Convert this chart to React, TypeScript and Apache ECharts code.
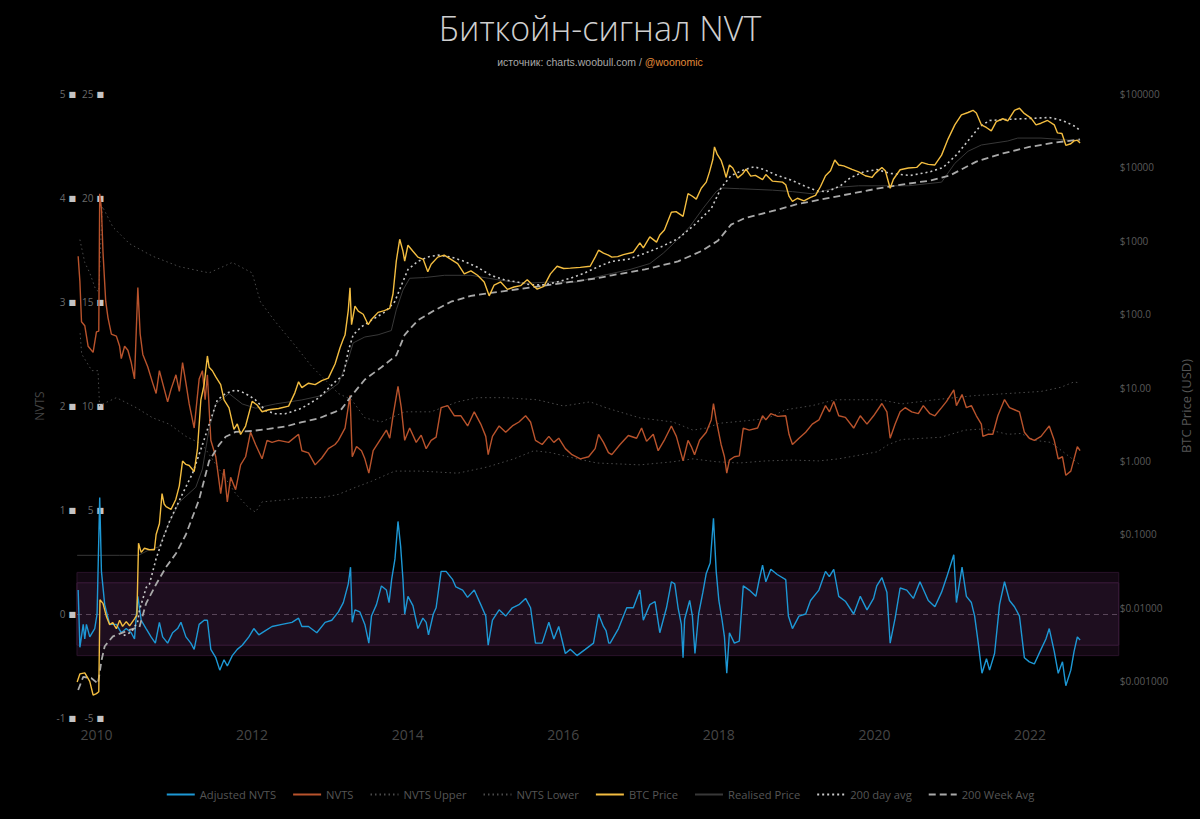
import React, { useEffect, useRef } from "react";
import * as echarts from "echarts";

// x values are decimal years
const xTickYears = [2010, 2012, 2014, 2016, 2018, 2020, 2022];
const priceTicks = [0.001, 0.01, 0.1, 1, 10, 100, 1000, 10000, 100000];

const adjustedNvts: [number, number][] = [
  [2009.765,0.23],[2009.787,-0.32],[2009.83,-0.1],[2009.85,-0.24],[2009.871,-0.1],[2009.914,-0.22],[2009.978,-0.14],[2010.008,0],[2010.042,1.12],[2010.064,0.41],[2010.106,0.09],[2010.17,-0.1],[2010.256,-0.1],[2010.319,-0.18],[2010.383,-0.14],[2010.447,-0.18],[2010.489,-0.24],[2010.532,0.17],[2010.575,-0.06],[2010.638,-0.14],[2010.702,-0.22],[2010.757,-0.28],[2010.809,-0.08],[2010.851,-0.22],[2010.915,-0.28],[2010.979,-0.18],[2011.043,-0.14],[2011.086,-0.08],[2011.15,-0.22],[2011.213,-0.28],[2011.256,-0.34],[2011.32,-0.1],[2011.384,-0.06],[2011.426,-0.06],[2011.47,-0.34],[2011.534,-0.42],[2011.585,-0.54],[2011.64,-0.44],[2011.682,-0.5],[2011.746,-0.4],[2011.81,-0.34],[2011.874,-0.3],[2011.959,-0.22],[2012.023,-0.14],[2012.087,-0.2],[2012.172,-0.16],[2012.257,-0.12],[2012.385,-0.1],[2012.513,-0.08],[2012.598,-0.04],[2012.64,-0.12],[2012.726,-0.12],[2012.832,-0.18],[2012.939,-0.08],[2013.025,-0.06],[2013.11,0.02],[2013.173,0.11],[2013.237,0.29],[2013.266,0.45],[2013.288,-0.08],[2013.323,0.04],[2013.386,0.02],[2013.45,-0.1],[2013.501,-0.28],[2013.535,-0.02],[2013.599,0.09],[2013.663,0.27],[2013.727,0.23],[2013.761,0.11],[2013.794,0.33],[2013.837,0.53],[2013.876,0.89],[2013.91,0.65],[2013.94,0.33],[2013.962,0],[2014.004,0.17],[2014.068,0.08],[2014.132,-0.14],[2014.196,-0.04],[2014.238,-0.08],[2014.268,-0.2],[2014.33,0],[2014.366,0.06],[2014.43,0.41],[2014.494,0.41],[2014.579,0.33],[2014.62,0.26],[2014.707,0.23],[2014.77,0.16],[2014.856,0.23],[2014.94,0.09],[2015.004,-0.02],[2015.035,-0.3],[2015.09,-0.06],[2015.176,0.04],[2015.26,-0.02],[2015.346,0.06],[2015.431,0.09],[2015.516,0.15],[2015.58,0.06],[2015.643,-0.28],[2015.729,-0.28],[2015.815,-0.08],[2015.879,-0.24],[2015.942,-0.12],[2016.027,-0.38],[2016.09,-0.34],[2016.176,-0.4],[2016.283,-0.34],[2016.389,-0.28],[2016.454,0],[2016.517,-0.12],[2016.55,-0.16],[2016.585,-0.28],[2016.603,-0.28],[2016.71,-0.14],[2016.816,0.06],[2016.901,0.06],[2016.985,0.23],[2017.029,-0.06],[2017.113,0.09],[2017.18,0.12],[2017.241,-0.18],[2017.327,0.06],[2017.39,0.31],[2017.433,0.29],[2017.476,0.06],[2017.518,-0.1],[2017.54,-0.42],[2017.56,-0.05],[2017.625,0.13],[2017.66,-0.02],[2017.693,-0.38],[2017.74,0],[2017.795,0.21],[2017.838,0.39],[2017.889,0.49],[2017.931,0.92],[2017.966,0.41],[2018.0,0.13],[2018.042,-0.06],[2018.072,-0.22],[2018.102,-0.57],[2018.136,-0.18],[2018.2,-0.28],[2018.263,-0.26],[2018.314,0.27],[2018.391,0.23],[2018.476,0.17],[2018.519,0.33],[2018.562,0.47],[2018.604,0.31],[2018.668,0.43],[2018.75,0.38],[2018.86,0.33],[2018.894,-0.02],[2018.946,-0.14],[2019.03,-0.02],[2019.116,0],[2019.179,0.13],[2019.286,0.23],[2019.371,0.41],[2019.42,0.36],[2019.477,0.43],[2019.541,0.17],[2019.63,0.12],[2019.733,0],[2019.818,0.17],[2019.904,0.04],[2019.989,0.15],[2020.03,0.27],[2020.096,0.35],[2020.16,0.21],[2020.202,-0.28],[2020.266,-0.04],[2020.33,0.25],[2020.415,0.23],[2020.5,0.15],[2020.585,0.31],[2020.692,0.13],[2020.777,0.07],[2020.863,0.21],[2020.927,0.35],[2021.02,0.57],[2021.054,0.11],[2021.126,0.45],[2021.182,0.17],[2021.246,0.11],[2021.288,-0.02],[2021.331,-0.26],[2021.382,-0.57],[2021.44,-0.43],[2021.48,-0.54],[2021.544,-0.38],[2021.608,0.09],[2021.672,0.31],[2021.736,0.13],[2021.8,0.07],[2021.864,-0.02],[2021.927,-0.42],[2021.991,-0.46],[2022.055,-0.48],[2022.141,-0.34],[2022.204,-0.24],[2022.247,-0.14],[2022.311,-0.36],[2022.362,-0.57],[2022.417,-0.46],[2022.46,-0.69],[2022.524,-0.54],[2022.566,-0.36],[2022.608,-0.22],[2022.643,-0.25]
];

const nvts: [number, number][] = [
  [2009.765,17.2],[2009.787,16.0],[2009.808,14.05],[2009.85,13.86],[2009.893,12.87],[2009.957,12.58],[2010.0,13.56],[2010.03,13.6],[2010.042,20.2],[2010.064,19.5],[2010.084,17.4],[2010.119,15.04],[2010.148,14.25],[2010.192,13.46],[2010.256,13.36],[2010.298,12.87],[2010.319,12.28],[2010.362,12.87],[2010.404,12.68],[2010.447,12.09],[2010.489,11.3],[2010.532,15.7],[2010.562,13.46],[2010.596,12.48],[2010.659,11.89],[2010.723,11.1],[2010.767,10.6],[2010.809,11.7],[2010.851,11.1],[2010.915,10.2],[2010.958,10.8],[2011.022,11.5],[2011.065,10.7],[2011.107,12.09],[2011.15,11.1],[2011.192,10.1],[2011.256,8.94],[2011.32,11.3],[2011.362,11.7],[2011.397,10.3],[2011.426,11.5],[2011.47,8.35],[2011.534,7.56],[2011.597,5.79],[2011.64,6.97],[2011.682,5.39],[2011.725,6.57],[2011.789,5.98],[2011.853,7.17],[2011.917,7.56],[2011.981,8.74],[2012.045,8.15],[2012.129,7.46],[2012.193,8.35],[2012.257,8.25],[2012.342,8.35],[2012.47,8.25],[2012.598,8.64],[2012.64,7.85],[2012.726,7.75],[2012.811,7.17],[2012.896,7.5],[2012.981,7.95],[2013.067,8.15],[2013.11,8.35],[2013.195,8.94],[2013.259,10.5],[2013.288,7.56],[2013.343,8.05],[2013.407,7.85],[2013.45,7.46],[2013.501,6.77],[2013.557,7.85],[2013.642,8.35],[2013.727,8.84],[2013.77,8.45],[2013.812,9.53],[2013.876,10.94],[2013.918,9.92],[2013.962,8.35],[2014.026,8.94],[2014.11,8.25],[2014.174,8.6],[2014.238,7.95],[2014.302,8.35],[2014.366,8.5],[2014.43,9.92],[2014.515,10.02],[2014.601,9.53],[2014.685,9.53],[2014.771,9.04],[2014.856,9.72],[2014.94,9.13],[2015.004,8.54],[2015.035,7.66],[2015.09,8.54],[2015.176,9.04],[2015.26,8.74],[2015.346,9.04],[2015.431,9.23],[2015.516,9.53],[2015.58,9.23],[2015.643,8.35],[2015.729,8.15],[2015.815,8.54],[2015.879,8.25],[2015.942,8.45],[2016.027,7.95],[2016.113,7.66],[2016.219,7.46],[2016.326,7.56],[2016.41,7.95],[2016.454,8.64],[2016.517,8.25],[2016.581,7.76],[2016.624,7.66],[2016.73,8.15],[2016.837,8.58],[2016.943,8.45],[2017.007,8.94],[2017.071,8.3],[2017.157,8.64],[2017.22,7.85],[2017.305,8.4],[2017.39,9.04],[2017.454,8.54],[2017.54,7.36],[2017.604,8.35],[2017.646,8.05],[2017.688,7.66],[2017.752,8.35],[2017.838,8.74],[2017.902,9.33],[2017.931,10.12],[2017.966,9.33],[2018.029,8.15],[2018.072,7.56],[2018.102,6.77],[2018.136,7.4],[2018.2,7.56],[2018.263,7.6],[2018.314,8.94],[2018.391,8.84],[2018.498,8.94],[2018.562,9.53],[2018.604,9.33],[2018.668,9.63],[2018.758,9.5],[2018.86,9.53],[2018.902,8.64],[2018.946,8.15],[2019.03,8.45],[2019.116,8.74],[2019.201,9.13],[2019.286,9.33],[2019.371,10.02],[2019.422,9.72],[2019.477,10.22],[2019.541,9.53],[2019.627,9.45],[2019.733,8.94],[2019.818,9.53],[2019.904,9.13],[2019.989,9.53],[2020.096,10.12],[2020.16,9.72],[2020.202,8.45],[2020.266,9.13],[2020.33,9.72],[2020.394,9.92],[2020.479,9.72],[2020.564,9.63],[2020.628,10.02],[2020.713,9.63],[2020.777,9.53],[2020.863,9.92],[2020.927,10.22],[2021.02,10.77],[2021.054,10.02],[2021.126,10.55],[2021.182,9.92],[2021.246,10.02],[2021.31,9.53],[2021.374,9.13],[2021.394,8.54],[2021.458,8.64],[2021.522,8.64],[2021.586,9.53],[2021.672,10.31],[2021.736,9.92],[2021.8,9.82],[2021.864,9.72],[2021.927,8.74],[2021.991,8.45],[2022.055,8.35],[2022.141,8.54],[2022.204,8.84],[2022.247,9.04],[2022.311,8.35],[2022.362,7.46],[2022.417,7.56],[2022.46,6.67],[2022.524,6.87],[2022.566,7.46],[2022.608,8.05],[2022.643,7.85]
];

const nvtsUpper: [number, number][] = [
  [2009.787,18.0],[2009.85,16.9],[2009.914,16.4],[2009.99,15.6],[2010.03,15.5],[2010.075,19.6],[2010.212,18.6],[2010.426,17.8],[2010.723,17.2],[2011.065,16.7],[2011.448,16.4],[2011.746,16.9],[2012.001,16.4],[2012.108,15.0],[2012.3,14.05],[2012.555,12.9],[2012.768,11.9],[2012.981,11.1],[2013.11,10.6],[2013.28,10.3],[2013.45,9.43],[2013.66,9.23],[2013.962,9.72],[2014.302,9.72],[2014.643,10.2],[2014.898,10.4],[2015.25,10.4],[2015.665,10.3],[2016.006,10.0],[2016.346,10.2],[2016.56,9.9],[2016.985,9.43],[2017.41,9.23],[2017.668,8.84],[2017.838,8.94],[2018.008,9.17],[2018.349,9.29],[2018.62,9.4],[2018.86,9.82],[2019.201,10.02],[2019.5,10.3],[2020.074,10.3],[2020.35,10.1],[2020.777,10.3],[2021.288,10.5],[2021.714,10.6],[2022.141,10.7],[2022.396,10.9],[2022.566,11.16],[2022.643,11.1]
];

const nvtsLower: [number, number][] = [
  [2009.79,13.5],[2009.81,12.5],[2009.94,11.7],[2010.02,11.7],[2010.04,10.0],[2010.084,10.1],[2010.256,10.4],[2010.511,9.92],[2010.723,9.43],[2010.936,9.13],[2011.15,8.54],[2011.362,8.15],[2011.576,6.97],[2011.789,5.79],[2011.959,5.1],[2012.045,4.9],[2012.129,5.39],[2012.427,5.49],[2012.64,5.59],[2012.9,5.6],[2013.11,5.75],[2013.323,6.08],[2013.535,6.38],[2013.834,6.87],[2014.174,6.87],[2014.643,6.77],[2015.026,7.07],[2015.367,7.46],[2015.623,7.85],[2015.835,7.76],[2016.176,7.46],[2016.432,7.26],[2016.985,7.17],[2017.412,7.32],[2017.668,7.46],[2017.966,7.32],[2018.264,7.26],[2018.604,7.36],[2018.946,7.4],[2019.286,7.36],[2019.541,7.46],[2019.84,7.66],[2020.04,7.8],[2020.18,8.15],[2020.35,8.39],[2020.863,8.5],[2021.16,8.84],[2021.416,8.9],[2021.714,8.64],[2021.885,8.68],[2022.055,8.35],[2022.268,8.25],[2022.438,7.76],[2022.643,7.17]
];

const btcPrice: [number, number][] = [
  [2009.752,0.00098],[2009.787,0.00126],[2009.85,0.0013],[2009.914,0.001],[2009.957,0.00065],[2010.0,0.00068],[2010.03,0.00072],[2010.045,0.0129],[2010.084,0.0115],[2010.13,0.0075],[2010.17,0.0059],[2010.21,0.0063],[2010.256,0.0052],[2010.298,0.0068],[2010.336,0.0056],[2010.383,0.0065],[2010.426,0.0057],[2010.489,0.0071],[2010.52,0.008],[2010.541,0.076],[2010.575,0.057],[2010.617,0.065],[2010.681,0.062],[2010.745,0.062],[2010.767,0.1],[2010.809,0.14],[2010.843,0.36],[2010.87,0.26],[2010.895,0.24],[2010.958,0.22],[2011.02,0.3],[2011.065,0.46],[2011.107,1.0],[2011.15,0.9],[2011.192,0.87],[2011.256,0.72],[2011.298,1.45],[2011.342,6.8],[2011.384,11],[2011.426,27],[2011.448,19],[2011.49,17],[2011.534,14],[2011.597,11],[2011.64,6.8],[2011.704,5.3],[2011.767,2.7],[2011.81,3.2],[2011.853,2.3],[2011.917,3.0],[2012.001,6.5],[2012.065,5.8],[2012.129,4.7],[2012.215,5.0],[2012.342,5.2],[2012.47,5.6],[2012.55,8.5],[2012.598,12],[2012.64,10],[2012.726,11.5],[2012.811,11],[2012.896,12.5],[2012.981,13.5],[2013.067,21],[2013.131,35],[2013.173,46],[2013.195,52],[2013.237,113],[2013.259,230],[2013.279,72],[2013.323,129],[2013.365,110],[2013.429,100],[2013.493,72],[2013.535,85],[2013.62,106],[2013.7,112],[2013.77,120],[2013.812,190],[2013.854,530],[2013.898,1050],[2013.94,720],[2013.962,530],[2014.004,870],[2014.068,720],[2014.132,600],[2014.2,560],[2014.259,380],[2014.302,480],[2014.387,600],[2014.47,640],[2014.557,560],[2014.643,490],[2014.728,355],[2014.813,390],[2014.898,340],[2014.984,275],[2015.048,178],[2015.112,250],[2015.196,275],[2015.282,218],[2015.367,235],[2015.452,245],[2015.537,295],[2015.623,240],[2015.665,220],[2015.751,240],[2015.835,355],[2015.921,450],[2016.006,420],[2016.091,425],[2016.219,435],[2016.346,450],[2016.41,600],[2016.454,745],[2016.517,680],[2016.58,640],[2016.624,600],[2016.7,610],[2016.773,650],[2016.901,700],[2016.985,940],[2017.029,800],[2017.113,1130],[2017.199,960],[2017.241,1200],[2017.3,1400],[2017.39,2450],[2017.45,2500],[2017.54,2150],[2017.604,4400],[2017.66,4050],[2017.71,3700],[2017.774,5200],[2017.838,6300],[2017.88,8700],[2017.923,12800],[2017.944,19000],[2017.98,15000],[2018.029,12500],[2018.059,10000],[2018.093,7300],[2018.136,10800],[2018.179,9800],[2018.243,7200],[2018.307,8200],[2018.349,9500],[2018.41,7600],[2018.47,7800],[2018.562,6800],[2018.604,8000],[2018.69,6500],[2018.818,6300],[2018.86,5800],[2018.902,4050],[2018.946,3450],[2019.01,3800],[2019.094,3500],[2019.179,3900],[2019.243,4150],[2019.307,5500],[2019.371,7700],[2019.435,9000],[2019.49,12600],[2019.541,10800],[2019.605,10500],[2019.712,9400],[2019.797,8700],[2019.882,7700],[2019.968,7300],[2020.01,8300],[2020.096,10000],[2020.14,9000],[2020.202,5200],[2020.244,6900],[2020.33,9300],[2020.436,9800],[2020.543,10000],[2020.607,11700],[2020.692,11000],[2020.777,10800],[2020.863,14700],[2020.947,24500],[2021.033,38000],[2021.118,52000],[2021.203,56000],[2021.267,60000],[2021.31,55000],[2021.374,38000],[2021.438,35000],[2021.502,31500],[2021.566,42000],[2021.65,46000],[2021.714,43000],[2021.8,60000],[2021.864,64000],[2021.92,55000],[2022.013,47000],[2022.077,38000],[2022.141,40000],[2022.225,43600],[2022.311,38000],[2022.353,29500],[2022.41,29000],[2022.46,20000],[2022.524,21000],[2022.566,23000],[2022.608,23500],[2022.643,21500]
];

const realisedPrice: [number, number][] = [
  [2009.752,0.052],[2010.0,0.052],[2010.3,0.052],[2010.54,0.052],[2010.681,0.062],[2010.809,0.068],[2010.87,0.1],[2010.94,0.148],[2011.065,0.275],[2011.277,0.44],[2011.362,0.78],[2011.448,2.75],[2011.534,6.0],[2011.704,8.3],[2011.874,6.0],[2012.045,5.25],[2012.3,6.0],[2012.64,6.8],[2012.896,7.8],[2013.11,11.4],[2013.237,24.5],[2013.3,40.7],[2013.45,49],[2013.62,52.5],[2013.79,60],[2013.854,115],[2013.94,214],[2014.026,309],[2014.217,316],[2014.473,339],[2014.813,339],[2015.154,295],[2015.495,263],[2015.835,275],[2016.176,275],[2016.517,339],[2016.624,359],[2016.858,407],[2017.113,490],[2017.284,676],[2017.454,1000],[2017.625,1550],[2017.795,2750],[2017.966,4680],[2018.029,5250],[2018.264,5130],[2018.69,4900],[2018.946,4680],[2019.201,4370],[2019.541,5370],[2019.797,5620],[2020.074,5620],[2020.436,5620],[2020.863,6300],[2021.033,11350],[2021.203,16600],[2021.374,20200],[2021.714,22900],[2021.842,25100],[2022.141,25100],[2022.396,24000],[2022.643,22900]
];

const avg200Day: [number, number][] = [
  [2010.35,0.0042],[2010.45,0.0047],[2010.53,0.0065],[2010.553,0.0093],[2010.64,0.019],[2010.681,0.021],[2010.767,0.047],[2010.851,0.085],[2010.936,0.148],[2011.107,0.36],[2011.235,0.68],[2011.362,1.66],[2011.448,3.16],[2011.554,6.8],[2011.66,8.3],[2011.789,9.3],[2011.874,8.7],[2011.959,7.8],[2012.045,6.8],[2012.172,4.9],[2012.3,4.4],[2012.427,4.4],[2012.64,5.25],[2012.853,7.2],[2013.067,12.0],[2013.173,14.8],[2013.237,31.6],[2013.3,52.5],[2013.407,67.6],[2013.535,83],[2013.706,107],[2013.834,148],[2013.918,245],[2014.004,407],[2014.132,525],[2014.259,603],[2014.387,638],[2014.557,603],[2014.728,525],[2014.898,436],[2015.069,339],[2015.24,295],[2015.41,275],[2015.58,251],[2015.751,251],[2015.921,275],[2016.091,309],[2016.262,359],[2016.432,436],[2016.624,525],[2016.837,562],[2017.05,676],[2017.262,832],[2017.476,1070],[2017.689,1660],[2017.902,2750],[2018.029,5250],[2018.157,7760],[2018.327,9330],[2018.455,10200],[2018.583,9330],[2018.754,7760],[2018.924,6760],[2019.094,5620],[2019.265,4790],[2019.392,4680],[2019.563,5620],[2019.69,7240],[2019.86,8700],[2020.03,9330],[2020.202,8300],[2020.458,7760],[2020.713,8700],[2020.884,10000],[2021.054,14800],[2021.224,24500],[2021.352,35900],[2021.48,43600],[2021.736,45200],[2021.949,46200],[2022.247,47900],[2022.417,43600],[2022.587,35900],[2022.643,31600]
];

const avg200Week: [number, number][] = [
  [2009.765,0.00076],[2009.83,0.00115],[2009.936,0.0011],[2010.02,0.00093],[2010.064,0.0019],[2010.106,0.003],[2010.212,0.0041],[2010.426,0.005],[2010.553,0.0055],[2010.638,0.0115],[2010.767,0.021],[2010.895,0.036],[2011.022,0.055],[2011.15,0.1],[2011.32,0.3],[2011.448,1.0],[2011.576,1.66],[2011.66,2.14],[2011.789,2.5],[2012.001,2.57],[2012.215,2.75],[2012.427,2.95],[2012.64,3.39],[2012.853,3.8],[2013.067,4.68],[2013.15,5.1],[2013.28,7.8],[2013.45,12.9],[2013.663,19],[2013.854,27.5],[2013.962,52.5],[2014.132,83],[2014.345,113],[2014.557,148],[2014.813,178],[2015.069,195],[2015.41,219],[2015.751,245],[2016.091,275],[2016.432,309],[2016.624,339],[2017.05,407],[2017.476,525],[2017.774,724],[2017.987,1000],[2018.157,1660],[2018.327,2020],[2018.668,2510],[2019.009,3160],[2019.35,3720],[2019.69,4370],[2020.03,5130],[2020.372,5890],[2020.713,6610],[2020.969,7760],[2021.31,12000],[2021.65,15500],[2021.991,19000],[2022.33,21900],[2022.643,24000]
];

const BAND_OUTER = 0.4;
const BAND_INNER = 0.3;

function leftLabel(v: number) {
  return `{n|${v}}{s|■}`;
}
function priceLabel(v: number) {
  if (v >= 999) return "$" + Math.round(v);
  return "$" + Number(v).toPrecision(4);
}

export default function App() {
  const ref = useRef<HTMLDivElement>(null);
  useEffect(() => {
    document.body.style.margin = "0";
    document.body.style.background = "#000";
    const chart = echarts.init(ref.current!, null, { renderer: "svg" });
    const font = "Open Sans";
    const rich = {
      n: { color: "#6a6a6a", fontSize: 10, fontFamily: font, padding: [0, 3, 0, 0] },
      s: { color: "#c4c4c4", fontSize: 8, fontFamily: "DejaVu Sans" },
    };
    const mkLine = (
      name: string,
      data: [number, number][],
      yAxisIndex: number,
      color: string,
      width: number,
      type: any,
      z: number
    ) => ({
      name,
      type: "line",
      data,
      yAxisIndex,
      symbol: "none",
      showSymbol: false,
      silent: true,
      z,
      lineStyle: { color, width, type },
      itemStyle: { color },
    });
    const adj: any = mkLine("Adjusted NVTS", adjustedNvts, 0, "#1d98d5", 1.4, "solid", 4);
    adj.markArea = {
      silent: true,
      z: 1,
      data: [
        [
          { yAxis: -BAND_OUTER, itemStyle: { color: "#130813", borderColor: "#2a122a", borderWidth: 1 } },
          { yAxis: BAND_OUTER },
        ],
        [
          { yAxis: -BAND_INNER, itemStyle: { color: "#1e0e1f", borderColor: "#3c1c3c", borderWidth: 1 } },
          { yAxis: BAND_INNER },
        ],
      ],
    };
    adj.markLine = {
      silent: true,
      z: 1,
      symbol: "none",
      label: { show: false },
      lineStyle: { color: "#5a465a", width: 1, type: [5, 4] },
      data: [{ yAxis: 0 }],
    };

    chart.setOption({
      animation: false,
      backgroundColor: "#000",
      title: {
        text: "Биткойн-сигнал NVT",
        subtext: "{a|источник: charts.woobull.com / }{b|@woonomic}",
        left: "center",
        top: 6,
        itemGap: 11,
        textStyle: { color: "#cfcfcf", fontSize: 34, fontWeight: 300, fontFamily: font },
        subtextStyle: {
          rich: {
            a: { color: "#a8a8a8", fontSize: 10.5, fontFamily: "Liberation Sans" },
            b: { color: "#e08b3a", fontSize: 10.5, fontFamily: "Liberation Sans" },
          },
        },
      },
      legend: {
        bottom: 14,
        left: "center",
        itemWidth: 28,
        itemHeight: 10,
        itemGap: 16,
        itemStyle: { opacity: 0 },
        textStyle: { color: "#555", fontSize: 11.2, fontFamily: font },
        data: [
          "Adjusted NVTS",
          "NVTS",
          "NVTS Upper",
          "NVTS Lower",
          "BTC Price",
          "Realised Price",
          "200 day avg",
          "200 Week Avg",
        ],
      },
      grid: { left: 77, right: 75, top: 94, bottom: 101, containLabel: false },
      xAxis: {
        type: "value",
        min: 2009.75,
        max: 2023.14,
        axisLine: { show: false },
        axisTick: { show: false },
        splitLine: { show: false },
        axisLabel: {
          customValues: xTickYears,
          color: "#464646",
          fontSize: 14,
          fontFamily: font,
          margin: 9,
          formatter: (v: number) => String(Math.round(v)),
        },
      },
      yAxis: [
        {
          type: "value",
          position: "left",
          offset: 0,
          min: -1,
          max: 5,
          interval: 1,
          name: "NVTS",
          nameLocation: "middle",
          nameGap: 30,
          nameTextStyle: { color: "#444", fontSize: 12, fontFamily: font },
          axisLine: { show: false },
          axisTick: { show: false },
          splitLine: { show: false },
          axisLabel: { formatter: leftLabel, rich, margin: 1 },
        },
        {
          type: "value",
          position: "left",
          offset: -28,
          min: -5,
          max: 25,
          interval: 5,
          axisLine: { show: false },
          axisTick: { show: false },
          splitLine: { show: false },
          axisLabel: { formatter: leftLabel, rich, margin: 1 },
        },
        {
          type: "log",
          logBase: 10,
          position: "right",
          min: Math.pow(10, -3.5),
          max: 100000,
          name: "BTC Price (USD)",
          nameLocation: "middle",
          nameGap: 34,
          nameRotate: 90,
          nameTextStyle: { color: "#555", fontSize: 13, fontFamily: font },
          axisLine: { show: false },
          axisTick: { show: false },
          splitLine: { show: false },
          axisLabel: {
            customValues: priceTicks,
            color: "#5a5a5a",
            fontSize: 10,
            fontFamily: font,
            margin: 1,
            formatter: priceLabel,
          },
        },
      ],
      series: [
        mkLine("NVTS Upper", nvtsUpper, 1, "#4a4a4a", 1, [1.5, 3], 2),
        mkLine("NVTS Lower", nvtsLower, 1, "#4a4a4a", 1, [1.5, 3], 2),
        mkLine("NVTS", nvts, 1, "#b9532c", 1.4, "solid", 3),
        adj,
        mkLine("Realised Price", realisedPrice, 2, "#383838", 1, "solid", 3),
        mkLine("200 Week Avg", avg200Week, 2, "#a9a9a9", 1.8, [7, 4], 5),
        mkLine("200 day avg", avg200Day, 2, "#c8c8c8", 1.6, [2, 3], 5),
        mkLine("BTC Price", btcPrice, 2, "#f3bd40", 1.4, "solid", 6),
      ],
    });
    return () => chart.dispose();
  }, []);
  return <div ref={ref} style={{ width: 1200, height: 819, background: "#000" }} />;
}
